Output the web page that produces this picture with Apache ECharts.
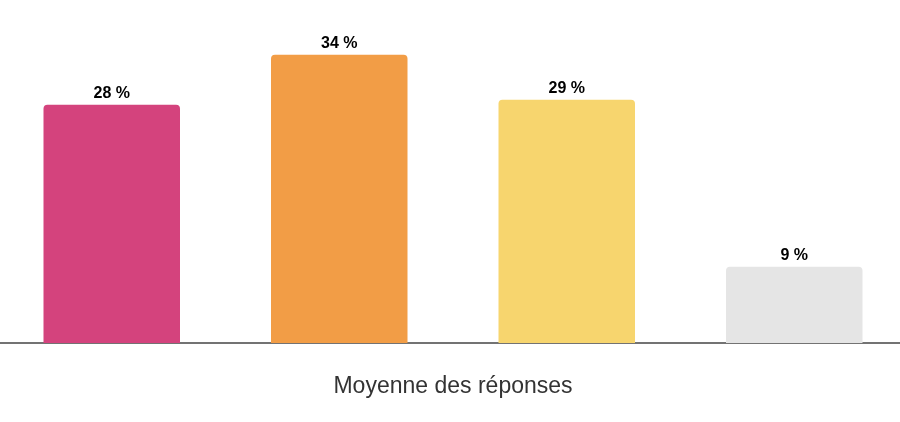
<!DOCTYPE html>
<html>
<head>
<meta charset="utf-8">
<script src="https://cdn.jsdelivr.net/npm/echarts@6/dist/echarts.min.js"></script>
<style>html,body{margin:0;padding:0;background:#fff;overflow:hidden;}#c{width:910px;height:422px;margin-left:-2px;}</style>
</head>
<body>
<div id="c"></div>
<script>
var categories = ['A', 'B', 'C', 'D'];
var values = [28.1, 34, 28.7, 9];
var colors = ['#D4437D', '#F29D46', '#F7D56E', '#E5E5E5'];
var axisName = 'Moyenne des réponses';

var chart = echarts.init(document.getElementById('c'), null, {renderer: 'canvas'});
chart.setOption({
  animation: false,
  grid: {left: 0, right: 0, top: 4, bottom: 79, containLabel: false},
  xAxis: {
    type: 'category',
    data: categories,
    axisLine: {show: true, lineStyle: {color: '#444', width: 1.5}},
    axisTick: {show: false},
    axisLabel: {show: false},
    name: axisName,
    nameLocation: 'middle',
    nameGap: 32,
    nameTextStyle: {fontSize: 23, color: '#333', fontFamily: 'Liberation Sans, Arial, sans-serif'}
  },
  yAxis: {
    type: 'value',
    min: 0,
    max: 40,
    show: false,
    splitLine: {show: false}
  },
  series: [{
    type: 'bar',
    barWidth: '60%',
    data: values.map(function (v, i) {
      return {value: v, itemStyle: {color: colors[i]}};
    }),
    itemStyle: {borderRadius: [4, 4, 0, 0]},
    label: {
      show: true,
      position: 'top',
      distance: 3,
      color: '#000',
      fontWeight: 'bold',
      fontSize: 16,
      fontFamily: 'Liberation Sans, Arial, sans-serif',
      formatter: function (p) { return Math.round(p.value) + ' %'; }
    }
  }]
});
</script>
</body>
</html>
